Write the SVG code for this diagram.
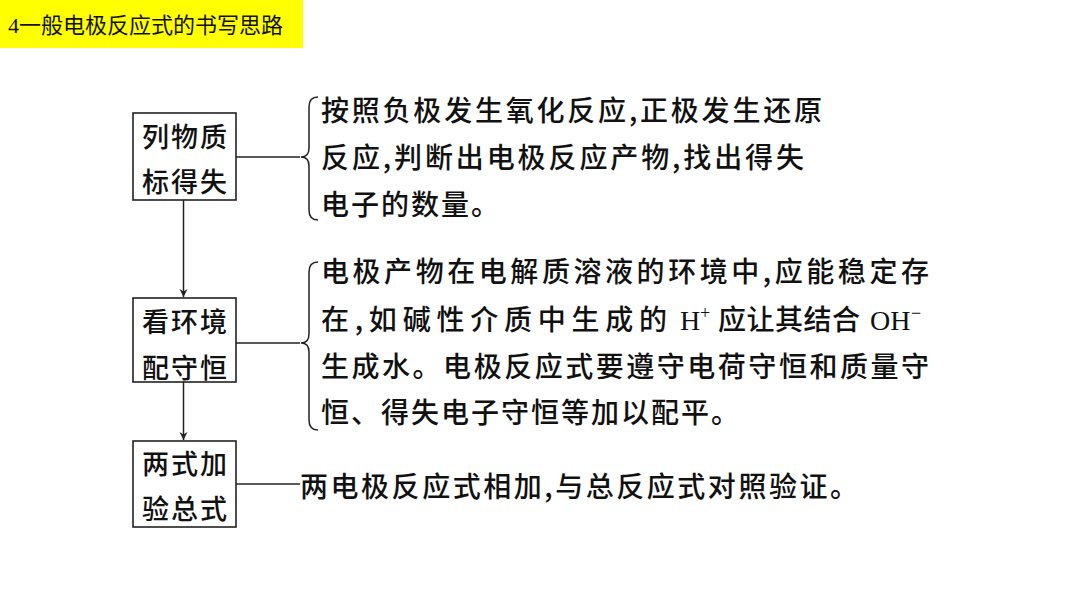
<svg xmlns="http://www.w3.org/2000/svg" width="1080" height="608" viewBox="0 0 1080 608">
<defs>
<style>
.cjk{font-family:"Noto Sans CJK SC","Noto Sans",sans-serif;fill:#111;font-weight:500;}
.t{font-size:28px;letter-spacing:2px;}
.bx{font-size:27px;letter-spacing:2px;text-anchor:middle;}
.lat{font-family:"Liberation Serif",serif;fill:#111;}
.box{fill:#fff;stroke:#222;stroke-width:1.6;}
.ln{fill:none;stroke:#222;stroke-width:1.5;}
</style>
<marker id="ah" viewBox="0 0 10 10" refX="10" refY="5" markerWidth="8" markerHeight="12" markerUnits="userSpaceOnUse" orient="auto">
<path d="M0,0 L10,5 L0,10 L3,5 Z" fill="#222"/>
</marker>
</defs>
<rect width="1080" height="608" fill="#fff"/>
<g id="title">
<rect x="0" y="0" width="303" height="48" fill="#ffff00"/>
<text x="8" y="33" class="cjk" style="font-size:22px;font-weight:400"><tspan class="lat">4</tspan>一般电极反应式的书写思路</text>
</g>
<g id="connectors">
<line class="ln" x1="236" y1="157" x2="300" y2="157"/>
<line class="ln" x1="236" y1="343" x2="300" y2="343"/>
<line class="ln" x1="236" y1="484" x2="300" y2="484"/>
<line class="ln" x1="183.5" y1="200" x2="183.5" y2="297" marker-end="url(#ah)"/>
<line class="ln" x1="183.5" y1="382" x2="183.5" y2="440" marker-end="url(#ah)"/>
<path class="ln" d="M318,97 Q309,97 309,107 L309,148 Q309,157 301,157 Q309,157 309,166 L309,210 Q309,220 318,220"/>
<path class="ln" d="M318,262 Q309,262 309,272 L309,334 Q309,343 301,343 Q309,343 309,352 L309,420 Q309,430 318,430"/>
</g>
<g id="node1">
<rect class="box" x="133" y="113" width="103" height="87"/>
<text class="cjk bx" x="185.5" y="147">列物质</text>
<text class="cjk bx" x="185.5" y="192">标得失</text>
</g>
<g id="node2">
<rect class="box" x="133" y="298" width="103" height="84"/>
<text class="cjk bx" x="185.5" y="332">看环境</text>
<text class="cjk bx" x="185.5" y="378">配守恒</text>
</g>
<g id="node3">
<rect class="box" x="133" y="441" width="103" height="86"/>
<text class="cjk bx" x="185.5" y="474">两式加</text>
<text class="cjk bx" x="185.5" y="519">验总式</text>
</g>
<g id="text1">
<text class="cjk t" x="321" y="121" textLength="503" lengthAdjust="spacing">按照负极发生氧化反应,正极发生还原</text>
<text class="cjk t" x="321" y="168" textLength="485" lengthAdjust="spacing">反应,判断出电极反应产物,找出得失</text>
<text class="cjk t" x="321" y="215">电子的数量。</text>
</g>
<g id="text2">
<text class="cjk t" x="321" y="282" textLength="610" lengthAdjust="spacing">电极产物在电解质溶液的环境中,应能稳定存</text>
<text class="cjk t" x="321" y="330" textLength="348" lengthAdjust="spacing">在,如碱性介质中生成的</text>
<text class="lat" x="680" y="330" style="font-size:28px">H</text>
<text class="lat" x="700" y="319" style="font-size:18px">+</text>
<text class="cjk t" x="718" y="330" textLength="144" lengthAdjust="spacing">应让其结合</text>
<text class="lat" x="870" y="330" style="font-size:28px">OH</text>
<text class="lat" x="911" y="319" style="font-size:18px">−</text>
<text class="cjk t" x="321" y="377" textLength="610" lengthAdjust="spacing">生成水。电极反应式要遵守电荷守恒和质量守</text>
<text class="cjk t" x="321" y="423">恒、得失电子守恒等加以配平。</text>
</g>
<g id="text3">
<text class="cjk t" x="300" y="497" textLength="560" lengthAdjust="spacing">两电极反应式相加,与总反应式对照验证。</text>
</g>
</svg>
